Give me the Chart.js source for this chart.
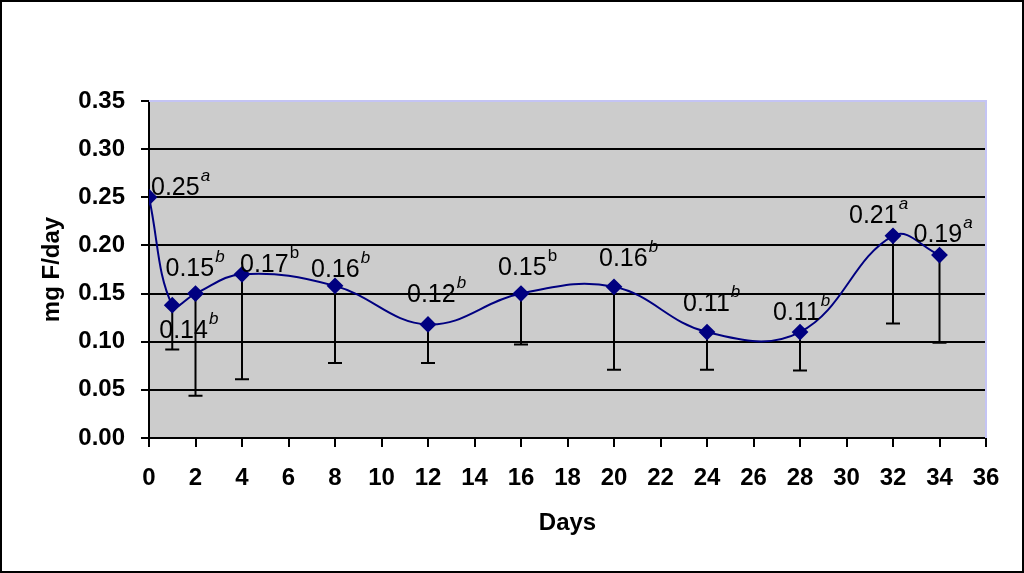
<!DOCTYPE html>
<html>
<head>
<meta charset="utf-8">
<script src="https://cdn.jsdelivr.net/npm/chart.js@4.4.1/dist/chart.umd.min.js"></script>
<style>
html,body{margin:0;padding:0;background:#fff;}
#wrap{width:1024px;height:573px;}
</style>
</head>
<body>
<div id="wrap"><canvas id="fChart" width="1024" height="573"></canvas></div>
<script>
// data
const days = [0, 1, 2, 4, 8, 12, 16, 20, 24, 28, 32, 34];
const fluoride = [0.25, 0.138, 0.15, 0.17, 0.158, 0.118, 0.15, 0.157, 0.11, 0.11, 0.21, 0.19];
const errLow = [null, 0.092, 0.044, 0.061, 0.078, 0.078, 0.097, 0.071, 0.071, 0.070, 0.119, 0.099];
const valueText = ["0.25", "0.14", "0.15", "0.17", "0.16", "0.12", "0.15", "0.16", "0.11", "0.11", "0.21", "0.19"];
const letters = ["a", "b", "b", "b", "b", "b", "b", "b", "b", "b", "a", "a"];

// label placement (px from the point: left edge, baseline)
const labelShift = [[2,-2],[-13,33],[-30,-18],[-2,-2],[-24,-9],[-21,-22],[-23,-19],[-15,-21],[-24,-21],[-27,-12],[-44,-13],[-26,-13]];

const FONT = "'Liberation Sans', Arial, sans-serif";

const frame = {
  id: "frame",
  beforeDraw(chart) {
    const c = chart.ctx, a = chart.chartArea;
    c.save();
    c.fillStyle = "#fff";
    c.fillRect(0, 0, chart.width, chart.height);
    c.fillStyle = "#cccccc";
    c.fillRect(a.left, a.top, a.right - a.left, a.bottom - a.top);
    c.restore();
  },
  beforeDatasetsDraw(chart) {
    // error bars (downward only)
    const c = chart.ctx, xs = chart.scales.x, ys = chart.scales.y;
    c.save();
    c.strokeStyle = "#000";
    c.lineWidth = 2;
    days.forEach((d, i) => {
      if (errLow[i] == null) return;
      const x = xs.getPixelForValue(d);
      const y0 = ys.getPixelForValue(fluoride[i]);
      const y1 = ys.getPixelForValue(errLow[i]);
      c.beginPath();
      c.moveTo(x, y0); c.lineTo(x, y1);
      c.moveTo(x - 7, y1); c.lineTo(x + 7, y1);
      c.stroke();
    });
    c.restore();
  },
  afterDraw(chart) {
    const c = chart.ctx, a = chart.chartArea, xs = chart.scales.x, ys = chart.scales.y;
    c.save();
    // top / right edge of plot area
    c.strokeStyle = "#c4c4f4";
    c.lineWidth = 2;
    c.beginPath();
    c.moveTo(a.left, a.top); c.lineTo(a.right, a.top); c.lineTo(a.right, a.bottom);
    c.stroke();
    // value labels
    c.fillStyle = "#000";
    c.textBaseline = "alphabetic";
    c.textAlign = "left";
    days.forEach((d, i) => {
      const x = xs.getPixelForValue(d) + labelShift[i][0];
      const y = ys.getPixelForValue(fluoride[i]) + labelShift[i][1];
      c.font = "25px " + FONT;
      c.fillText(valueText[i], x, y);
      const w = c.measureText(valueText[i]).width;
      c.font = ((i === 3 || i === 6) ? "" : "italic ") + "17px " + FONT;
      c.fillText(letters[i], x + w + 1, y - 14);
    });
    // outer border
    c.strokeStyle = "#000";
    c.lineWidth = 2;
    c.strokeRect(1, 1, chart.width - 2, chart.height - 2);
    c.restore();
  }
};

new Chart(document.getElementById("fChart"), {
  type: "line",
  data: {
    datasets: [{
      data: days.map((d, i) => ({x: d, y: fluoride[i]})),
      borderColor: "#000080",
      backgroundColor: "#000080",
      borderWidth: 2,
      tension: 0.4,
      pointStyle: "rectRot",
      pointRadius: 7,
      pointHoverRadius: 7
    }]
  },
  options: {
    responsive: false,
    animation: false,
    events: [],
    layout: {padding: {left: 30, right: 38, top: 101, bottom: 25}},
    plugins: {legend: {display: false}, tooltip: {enabled: false}},
    scales: {
      x: {
        type: "linear",
        min: 0, max: 36,
        afterFit(s) { s.height = 110; },
        ticks: {stepSize: 2, color: "#000", padding: 17, maxRotation: 0,
          font: {family: FONT, size: 24, weight: "bold"}},
        grid: {drawOnChartArea: false, color: "#000", tickColor: "#000", tickLength: 9, lineWidth: 2},
        border: {color: "#000", width: 2},
        title: {display: true, text: "Days", color: "#000", padding: {top: 0, bottom: 10},
          font: {family: FONT, size: 24, weight: "bold"}}
      },
      y: {
        min: 0, max: 0.35,
        afterFit(s) { s.width = 119; },
        ticks: {stepSize: 0.05, color: "#000", padding: 16,
          callback: v => v.toFixed(2),
          font: {family: FONT, size: 24, weight: "bold"}},
        grid: {color: c => c.tick && c.tick.value >= 0.349 ? "rgba(0,0,0,0)" : "#000",
          tickColor: "#000", tickLength: 8, lineWidth: 2},
        border: {color: "#000", width: 2},
        title: {display: true, text: "mg F/day", color: "#000", padding: {top: 8, bottom: 0},
          font: {family: FONT, size: 24, weight: "bold"}}
      }
    }
  },
  plugins: [frame]
});
</script>
</body>
</html>
